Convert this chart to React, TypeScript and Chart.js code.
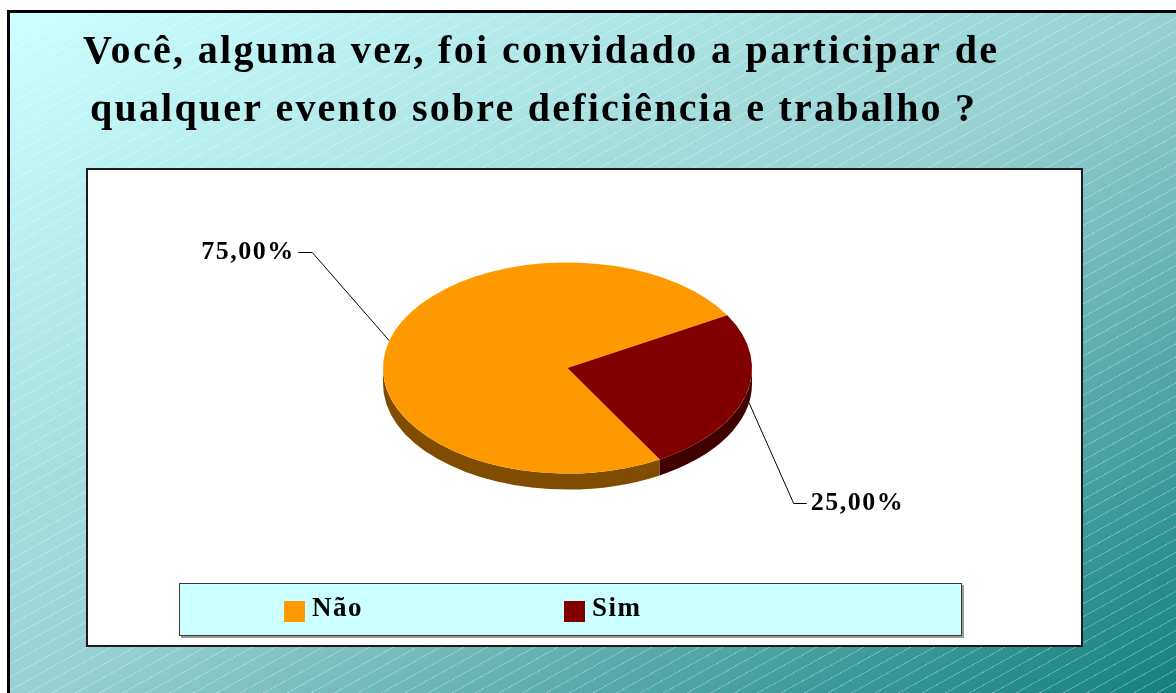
import React, { useEffect, useRef } from "react";
import { Chart, registerables } from "chart.js";

Chart.register(...registerables);

// ---------- data ----------
const TITLE_LINES = [
  "Você, alguma vez, foi convidado a participar de",
  "qualquer evento sobre deficiência e trabalho ?",
];
const CATEGORIES = ["Não", "Sim"];
const VALUES = [75, 25];
const TOP_COLORS = ["#FF9900", "#800000"];
const SIDE_COLORS = ["#804D00", "#400000"];

// ---------- layout / style ----------
const W = 1176;
const H = 693;
const SERIF = '"Liberation Serif", "Times New Roman", serif';

function pctLabel(v: number, total: number) {
  return ((v / total) * 100).toFixed(2).replace(".", ",") + "%";
}

function drawFitted(ctx: CanvasRenderingContext2D, text: string, x0: number, x1: number, y: number) {
  (ctx as any).letterSpacing = "0px";
  const w = ctx.measureText(text).width;
  const sp = (x1 - x0 - w) / Math.max(1, text.length - 1);
  (ctx as any).letterSpacing = sp + "px";
  ctx.textAlign = "left";
  ctx.fillText(text, x0, y);
  (ctx as any).letterSpacing = "0px";
}

function drawSpaced(
  ctx: CanvasRenderingContext2D,
  text: string,
  x: number,
  y: number,
  align: "left" | "right",
  spacing: number
) {
  (ctx as any).letterSpacing = spacing + "px";
  const w = ctx.measureText(text).width - spacing;
  ctx.textAlign = "left";
  ctx.fillText(text, align === "right" ? x - w : x, y);
  (ctx as any).letterSpacing = "0px";
}

const titlePlugin = {
  id: "slideTitle",
  afterDraw(chart: any) {
    const ctx: CanvasRenderingContext2D = chart.ctx;
    ctx.save();
    ctx.fillStyle = "#000";
    ctx.font = `bold 40px ${SERIF}`;
    ctx.textBaseline = "alphabetic";
    drawFitted(ctx, TITLE_LINES[0], 83, 997, 63);
    drawFitted(ctx, TITLE_LINES[1], 90, 975, 121);
    ctx.restore();
  },
};

const leaders = [
  { dx: -77, dy: -89, hx: -14, tx: -5, align: "right" as const },
  { dx: 48, dy: 108, hx: 13, tx: 4, align: "left" as const },
];

const pie3d = {
  id: "pie3d",
  beforeDatasetsDraw(chart: any) {
    const ctx: CanvasRenderingContext2D = chart.ctx;
    const arcs = chart.getDatasetMeta(0).data;
    if (!arcs.length) return;
    const { x: cx, y: cy, outerRadius: rx } = arcs[0].getProps(["x", "y", "outerRadius"], true);
    const squash = 0.572;
    const ry = rx * squash;
    const depth = 16;

    ctx.save();
    // leader lines (behind the pie)
    ctx.strokeStyle = "#000";
    ctx.lineWidth = 1;
    arcs.forEach((arc: any, i: number) => {
      const { startAngle, endAngle } = arc.getProps(["startAngle", "endAngle"], true);
      const mid = (startAngle + endAngle) / 2;
      const ax = cx + rx * Math.cos(mid);
      const ay = cy + ry * Math.sin(mid);
      const L = leaders[i];
      const ex = ax + L.dx;
      const ey = Math.round(ay + L.dy) + 0.5;
      ctx.beginPath();
      ctx.moveTo(ax, ay);
      ctx.lineTo(ex, ey);
      ctx.lineTo(ex + L.hx, ey);
      ctx.stroke();
    });

    // extruded sides (front half only)
    arcs.forEach((arc: any, i: number) => {
      const { startAngle: s, endAngle: e } = arc.getProps(["startAngle", "endAngle"], true);
      for (let k = -2; k <= 2; k++) {
        const a0 = Math.max(s, 2 * Math.PI * k);
        const a1 = Math.min(e, 2 * Math.PI * k + Math.PI);
        if (a1 > a0) {
          ctx.beginPath();
          ctx.ellipse(cx, cy, rx, ry, 0, a0, a1, false);
          ctx.lineTo(cx + rx * Math.cos(a1), cy + depth + ry * Math.sin(a1));
          ctx.ellipse(cx, cy + depth, rx, ry, 0, a1, a0, true);
          ctx.closePath();
          ctx.fillStyle = SIDE_COLORS[i];
          ctx.fill();
        }
      }
    });
    ctx.restore();

    // squash the top face into an ellipse
    ctx.save();
    ctx.translate(cx, cy);
    ctx.scale(1, squash);
    ctx.translate(-cx, -cy);
  },
  afterDatasetsDraw(chart: any) {
    const ctx: CanvasRenderingContext2D = chart.ctx;
    ctx.restore();
    const arcs = chart.getDatasetMeta(0).data;
    if (!arcs.length) return;
    const { x: cx, y: cy, outerRadius: rx } = arcs[0].getProps(["x", "y", "outerRadius"], true);
    const ry = rx * 0.572;
    const values: number[] = chart.data.datasets[0].data;
    const total = values.reduce((a, b) => a + b, 0);
    ctx.save();
    ctx.fillStyle = "#000";
    ctx.font = `bold 26px ${SERIF}`;
    ctx.textBaseline = "middle";
    arcs.forEach((arc: any, i: number) => {
      const { startAngle, endAngle } = arc.getProps(["startAngle", "endAngle"], true);
      const mid = (startAngle + endAngle) / 2;
      const ax = cx + rx * Math.cos(mid);
      const ay = cy + ry * Math.sin(mid);
      const L = leaders[i];
      const ey = Math.round(ay + L.dy);
      const hx = ax + L.dx + L.hx;
      drawSpaced(ctx, pctLabel(values[i], total), hx + L.tx, ey, L.align, 1.5);
    });
    ctx.restore();
  },
};

const legendBox = {
  id: "legendBox",
  afterDraw(chart: any) {
    const ctx: CanvasRenderingContext2D = chart.ctx;
    const left = 179, top = 583, right = 962, bottom = 636;
    ctx.save();
    // shadow
    ctx.fillStyle = "#9a9a9a";
    ctx.fillRect(left + 2, top + 2, right - left, bottom - top);
    ctx.fillStyle = "#CCFFFF";
    ctx.fillRect(left, top, right - left, bottom - top);
    ctx.strokeStyle = "#3a3a3a";
    ctx.lineWidth = 1;
    ctx.strokeRect(left + 0.5, top + 0.5, right - left - 1, bottom - top - 1);

    const labels: string[] = chart.data.labels;
    const colors: string[] = chart.data.datasets[0].backgroundColor;
    ctx.font = `bold 27px ${SERIF}`;
    ctx.textBaseline = "alphabetic";
    labels.forEach((lab, i) => {
      const bx = left + 105 + i * 280;
      ctx.fillStyle = colors[i];
      ctx.fillRect(bx, 601, 21, 21);
      ctx.fillStyle = "#000";
      drawSpaced(ctx, lab, bx + 28, 616, "left", 1.5);
    });
    ctx.restore();
  },
};

export default function App() {
  const canvasRef = useRef<HTMLCanvasElement | null>(null);

  useEffect(() => {
    if (!canvasRef.current) return;
    const chart = new Chart(canvasRef.current, {
      type: "pie",
      data: {
        labels: CATEGORIES,
        datasets: [
          {
            data: VALUES,
            backgroundColor: TOP_COLORS,
            borderWidth: 0,
            hoverOffset: 0,
          },
        ],
      },
      options: {
        responsive: false,
        animation: false,
        events: [],
        rotation: 150,
        layout: { padding: { left: 383, right: 424, top: 183.5, bottom: 140.5 } },
        plugins: {
          legend: { display: false },
          title: { display: false },
          tooltip: { enabled: false },
        },
      },
      plugins: [pie3d, legendBox, titlePlugin],
    });
    return () => chart.destroy();
  }, []);

  return (
    <div style={{ position: "fixed", left: 0, top: 0, width: W, height: H, overflow: "hidden", background: "#fff" }}>
      <div
        style={{
          position: "absolute",
          left: 7,
          top: 10,
          width: W + 20,
          height: H + 20,
          borderLeft: "3px solid #000",
          borderTop: "3px solid #000",
          boxSizing: "border-box",
          background:
            "repeating-linear-gradient(151deg, rgba(255,255,255,0) 0px, rgba(255,255,255,0) 10.4px, rgba(255,255,255,0.28) 10.4px, rgba(255,255,255,0.28) 11.4px), linear-gradient(to bottom right, #CCFFFF 0%, #95CFCF 50%, #0A7A7A 100%)",
        }}
      />
      <div
        style={{
          position: "absolute",
          left: 86,
          top: 168,
          width: 997,
          height: 479,
          background: "#fff",
          border: "2px solid #1c1c1c",
          boxSizing: "border-box",
        }}
      />
      <canvas ref={canvasRef} width={W} height={H} style={{ position: "absolute", left: 0, top: 0, width: W, height: H }} />
    </div>
  );
}
